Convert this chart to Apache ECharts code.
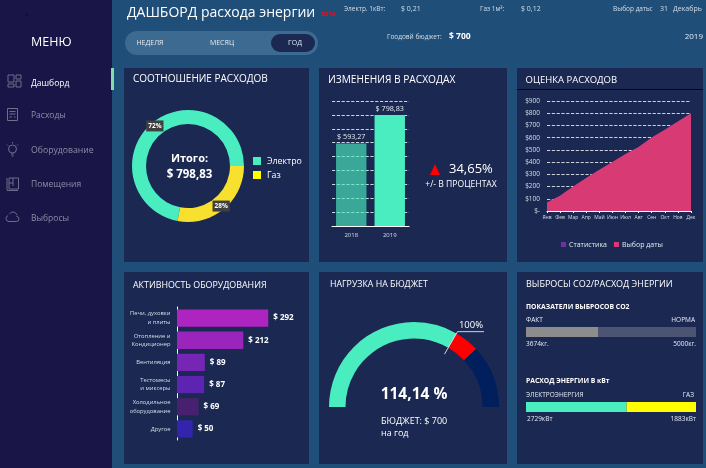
<!DOCTYPE html>
<html>
<head>
<meta charset="utf-8">
<title>Дашборд</title>
<script src="https://cdn.jsdelivr.net/npm/echarts@6/dist/echarts.min.js"></script>
<style>
html, body { margin: 0; padding: 0; background: #1f4e79; }
#main { width: 706px; height: 468px; }
</style>
</head>
<body>
<div id="main"></div>
<script>
'use strict';

// donut
var shareNames = ['Электро', 'Газ'];
var shareValues = [575.16, 223.67];
// expenses by year
var years = ['2018', '2019'];
var yearValues = [593.27, 798.83];
// estimate by month
var months = ['Янв', 'Фев', 'Мар', 'Апр', 'Май', 'Июн', 'Июл', 'Авг', 'Сен', 'Окт', 'Ноя', 'Дек'];
var statValues = [70, 125, 200, 270, 338, 400, 466, 523, 602, 665, 733, 798.83];
var dateValues = [70, 125, 200, 270, 338, 400, 466, 523, 602, 665, 733, 798.83];
// equipment
var equipNames = ['Печи, духовки\nи плиты', 'Отопление и\nКондиционер', 'Вентиляция', 'Тестомесы\nи миксеры', 'Холодильное\nоборудование', 'Другое'];
var equipValues = [292, 212, 89, 87, 69, 50];
var equipColors = ['#ae24c0', '#9a25bd', '#7626b4', '#5c24b0', '#47216f', '#3324ad'];
// budget gauge, percent
var budgetParts = [100, 14.14, 35.86];
// co2 and energy
var co2Fact = [3674];
var co2Norm = [5000];
var energyElectro = [2729];
var energyGas = [1883];

var FONT = '"Open Sans", sans-serif';
var PANEL = '#1b2852';
var WHITE = '#ffffff';
var GREEN = '#4aedc0';
var ICON = '#6d6e8c';

function txt(x, y, text, size, color, weight, align) {
    return {
        type: 'text',
        silent: true,
        z: 5,
        style: {
            x: x, y: y, text: text,
            fill: color || WHITE,
            font: (weight || 'normal') + ' ' + size + 'px ' + FONT,
            textAlign: align || 'left',
            textVerticalAlign: 'middle'
        }
    };
}

function box(x, y, w, h, color, r) {
    return {
        type: 'rect', silent: true, z: -10,
        shape: { x: x, y: y, width: w, height: h, r: r || 0 },
        style: { fill: color }
    };
}

function ic(type, shape) {
    return {
        type: type, silent: true, z: 5, shape: shape,
        style: { fill: 'none', stroke: ICON, lineWidth: 1 }
    };
}

function rc(x, y, w, h) { return ic('rect', { x: x, y: y, width: w, height: h }); }
function ln(x1, y1, x2, y2) { return ic('line', { x1: x1, y1: y1, x2: x2, y2: y2 }); }
function arc(cx, cy, r, a, b) { return ic('arc', { cx: cx, cy: cy, r: r, startAngle: a, endAngle: b, clockwise: true }); }

function money(v) { return '$ ' + v.toFixed(2).replace('.', ','); }

// gauge geometry
var gCx = 414, gCy = 407;
var gTotal = budgetParts[0] + budgetParts[1] + budgetParts[2];
var gAng = Math.PI * (1 - budgetParts[0] / gTotal);
var gOver = budgetParts[0] + budgetParts[1];
var changePct = (yearValues[1] / yearValues[0] - 1) * 100;
var yearSum = shareValues[0] + shareValues[1];

var graphic = [
    box(0, 0, 112, 468, '#1a1547'),
    box(111, 68, 3, 22, '#7ee0a8'),
    box(124, 68, 185, 194, PANEL),
    box(319, 68, 188, 194, PANEL),
    box(517, 68, 186, 194, PANEL),
    box(517, 89, 186, 1, '#05081c'),
    box(124, 272, 185, 192, PANEL),
    box(319, 272, 188, 192, PANEL),
    box(517, 272, 186, 192, PANEL),
    box(125, 31, 193, 24, '#3d6a91', 12),
    box(271, 34, 44, 18, PANEL, 9),

    // sidebar
    txt(25, 14, 'з', 6, '#05081c'),
    txt(31, 42, 'МЕНЮ', 12.5, WHITE),
    txt(31, 84, 'Дашборд', 8.5, WHITE),
    txt(31, 116, 'Расходы', 8.5, '#8d8da6'),
    txt(31, 151, 'Оборудование', 8.7, '#8d8da6'),
    txt(31, 185, 'Помещения', 8.5, '#8d8da6'),
    txt(31, 219, 'Выбросы', 8.5, '#8d8da6'),
    rc(8, 75, 6, 7), rc(16, 75, 5, 4), rc(8, 84, 6, 3), rc(16, 81, 5, 6),
    rc(7.5, 108.5, 10, 12), ln(9.5, 111.5, 15.5, 111.5), ln(9.5, 114, 15.5, 114), ln(9.5, 117, 12, 117), ln(14, 117, 15.5, 117),
    ic('circle', { cx: 12.5, cy: 149, r: 4 }), ln(11, 154, 14, 154), ln(11.5, 156, 13.5, 156), ln(12.5, 142, 12.5, 143.5), ln(7, 144.5, 8, 145.5), ln(18, 144.5, 17, 145.5),
    rc(9, 178, 9.5, 11), ln(9, 183, 13, 183), ln(13, 178, 13, 186), ln(7, 178, 7, 190), ln(7, 190.5, 18, 190.5),
    arc(9, 218.5, 3, 1.57, 4.4), arc(13, 216, 4, 3.6, 6.1), arc(16.5, 219, 2.5, 4.7, 1.57), ln(9, 221.5, 16.5, 221.5),

    // header
    txt(127, 13, 'ДАШБОРД расхода энергии', 14, WHITE),
    txt(321, 14.5, 'BETA', 6, '#e81123', 'bold'),
    txt(344, 9, 'Электр. 1кВт:', 6.5, '#d7dfe8'),
    txt(401, 9, '$ 0,21', 7, '#d7dfe8'),
    txt(480, 9.5, 'Газ 1м³:', 6.5, '#d7dfe8'),
    txt(521, 9, '$ 0,12', 7, '#d7dfe8'),
    txt(613, 9, 'Выбор даты:', 6.5, '#d7dfe8'),
    txt(660, 9, '31', 7, '#d7dfe8'),
    txt(673, 9, 'Декабрь', 7, '#d7dfe8'),
    txt(387, 37.5, 'Гоодовй бюджет:', 6.5, '#d7dfe8'),
    txt(449, 37, '$ 700', 8.5, WHITE, 'bold'),
    txt(703, 37, '2019', 8, '#e5ebf2', 'normal', 'right'),
    txt(150, 42.5, 'НЕДЕЛЯ', 7, '#e5ebf2', 'normal', 'center'),
    txt(222, 42.5, 'МЕСЯЦ', 7, '#e5ebf2', 'normal', 'center'),
    txt(295, 42.5, 'ГОД', 7, '#e5ebf2', 'normal', 'center'),

    // panel titles
    txt(133, 79, 'СООТНОШЕНИЕ РАСХОДОВ', 10, WHITE),
    txt(328, 80, 'ИЗМЕНЕНИЯ В РАСХОДАХ', 10.2, WHITE),
    txt(525.5, 80, 'ОЦЕНКА РАСХОДОВ', 9.5, WHITE),
    txt(133, 285, 'АКТИВНОСТЬ ОБОРУДОВАНИЯ', 8.9, WHITE),
    txt(330, 284, 'НАГРУЗКА НА БЮДЖЕТ', 8.8, WHITE),
    txt(526, 284, 'ВЫБРОСЫ СО2/РАСХОД ЭНЕРГИИ', 9, WHITE),

    // donut centre
    txt(189.5, 159, 'Итого:', 11, WHITE, 'bold', 'center'),
    txt(189.5, 175, money(yearSum), 11.5, WHITE, 'bold', 'center'),

    // change
    {
        type: 'polygon', silent: true, z: 5,
        shape: { points: [[430, 175], [440, 175], [435, 164]] },
        style: { fill: '#ff0000' }
    },
    txt(449, 169, changePct.toFixed(2).replace('.', ',') + '%', 13, WHITE),
    txt(461, 185, '+/- В ПРОЦЕНТАХ', 8.6, WHITE, 'normal', 'center'),

    // gauge text and 100% mark
    txt(414, 395, gOver.toFixed(2).replace('.', ',') + ' %', 15.5, WHITE, 'bold', 'center'),
    txt(381, 421, 'БЮДЖЕТ: $ 700', 9, WHITE),
    txt(381, 433, 'на год', 9, WHITE),
    {
        type: 'polyline', silent: true, z: 6,
        shape: { points: [
            [gCx + 61 * Math.cos(gAng), gCy - 61 * Math.sin(gAng)],
            [gCx + 87 * Math.cos(gAng), gCy - 87 * Math.sin(gAng)],
            [484, gCy - 87 * Math.sin(gAng)]
        ] },
        style: { fill: 'none', stroke: WHITE, lineWidth: 0.8 }
    },
    txt(471, 325, budgetParts[0] + '%', 9.5, WHITE, 'normal', 'center'),

    // co2 block
    txt(526, 307, 'ПОКАЗАТЕЛИ ВЫБРОСОВ СО2', 6.8, WHITE, 'bold'),
    txt(526, 320, 'ФАКТ', 6.5, '#e5ebf2'),
    txt(695, 320, 'НОРМА', 6.5, '#e5ebf2', 'normal', 'right'),
    txt(526, 344, co2Fact[0] + 'кг.', 6.5, '#e5ebf2'),
    txt(696, 344, co2Norm[0] + 'кг.', 6.5, '#e5ebf2', 'normal', 'right'),
    txt(526, 381, 'РАСХОД ЭНЕРГИИ В кВт', 6.8, WHITE, 'bold'),
    txt(526, 395, 'ЭЛЕКТРОЭНЕРГИЯ', 6.5, '#e5ebf2'),
    txt(694, 395, 'ГАЗ', 6.5, '#e5ebf2', 'normal', 'right'),
    txt(527, 419.5, energyElectro[0] + 'кВт', 6.5, '#e5ebf2'),
    txt(696, 419.5, energyGas[0] + 'кВт', 6.5, '#e5ebf2', 'normal', 'right')
];

var dashed = { show: true, lineStyle: { color: '#ffffff', type: 'dashed', width: 0.8 } };
var hiddenAxis = { show: false };

var option = {
    backgroundColor: '#1f4e79',
    animation: false,
    textStyle: { fontFamily: FONT },
    graphic: graphic,
    legend: [
        {
            left: 253, top: 156.5, orient: 'vertical', itemWidth: 8, itemHeight: 8, itemGap: 5, padding: 0,
            selectedMode: false,
            textStyle: { color: WHITE, fontSize: 8.8, padding: [0, 0, 0, 1] },
            data: [
                { name: shareNames[0], icon: 'rect', itemStyle: { color: GREEN } },
                { name: shareNames[1], icon: 'rect', itemStyle: { color: '#ffff00' } }
            ]
        },
        {
            left: 561, top: 241, itemWidth: 5, itemHeight: 5, itemGap: 7, padding: 0,
            selectedMode: false,
            textStyle: { color: '#e5ebf2', fontSize: 7, padding: [0, 0, 0, -2] },
            data: [
                { name: 'Статистика', icon: 'rect' },
                { name: 'Выбор даты', icon: 'rect' }
            ]
        }
    ],
    grid: [
        { left: 332, top: 101, width: 77, height: 125 },
        { left: 547, top: 101, width: 144, height: 110 },
        { left: 177, top: 307, width: 100, height: 133 },
        { left: 526, top: 327, width: 170, height: 10 },
        { left: 526, top: 402, width: 170, height: 10 }
    ],
    xAxis: [
        {
            gridIndex: 0, type: 'category', data: years,
            axisLine: { lineStyle: { color: WHITE, width: 1 } }, axisTick: { show: false },
            axisLabel: { color: '#d7dfe8', fontSize: 6, margin: 6 }
        },
        {
            gridIndex: 1, type: 'category', data: months, boundaryGap: false,
            axisLine: { lineStyle: { color: WHITE, width: 1 } },
            axisTick: { show: true, length: 2, lineStyle: { color: WHITE } },
            axisLabel: { color: '#d7dfe8', fontSize: 5, margin: 4, interval: 0 }
        },
        { gridIndex: 2, type: 'value', min: 0, max: 320, show: false },
        { gridIndex: 3, type: 'value', min: 0, max: co2Fact[0] + co2Norm[0], show: false },
        { gridIndex: 4, type: 'value', min: 0, max: energyElectro[0] + energyGas[0], show: false }
    ],
    yAxis: [
        {
            gridIndex: 0, type: 'value', min: 0, max: 900, interval: 100,
            axisLabel: hiddenAxis, axisLine: hiddenAxis, axisTick: hiddenAxis, splitLine: dashed
        },
        {
            gridIndex: 1, type: 'value', min: 0, max: 900, interval: 100,
            axisLine: hiddenAxis, axisTick: hiddenAxis, splitLine: dashed,
            axisLabel: {
                color: '#d7dfe8', fontSize: 6.5, margin: 7,
                formatter: function (v) { return v === 0 ? '$-' : '$' + v; }
            }
        },
        {
            gridIndex: 2, type: 'category', inverse: true, data: equipNames,
            axisLine: { lineStyle: { color: WHITE, width: 1 } }, axisTick: hiddenAxis,
            axisLabel: { color: '#d7dfe8', fontSize: 5.8, lineHeight: 8.5, margin: 6.5, align: 'right' }
        },
        { gridIndex: 3, type: 'category', data: ['co2'], show: false },
        { gridIndex: 4, type: 'category', data: ['energy'], show: false }
    ],
    series: [
        {
            type: 'pie', name: 'Соотношение', center: [188, 166], radius: [42, 56],
            startAngle: 259.2, clockwise: true, silent: true,
            percentPrecision: 0, labelLine: { show: false },
            label: {
                show: true, position: 'inside', formatter: '{d}%', color: WHITE,
                fontSize: 6.5, fontWeight: 'bold', backgroundColor: '#404040', padding: [2, 2]
            },
            data: [
                { name: shareNames[0], value: shareValues[0], itemStyle: { color: GREEN } },
                { name: shareNames[1], value: shareValues[1], itemStyle: { color: '#f7e02e' } }
            ]
        },
        {
            type: 'bar', name: 'Расходы', xAxisIndex: 0, yAxisIndex: 0, barWidth: '79%', silent: true,
            label: {
                show: true, position: 'top', color: '#e5ebf2', fontSize: 7.2, distance: 3,
                formatter: function (p) { return money(p.value); }
            },
            data: [
                { value: yearValues[0], itemStyle: { color: 'rgba(74,237,192,0.65)' } },
                { value: yearValues[1], itemStyle: { color: GREEN } }
            ]
        },
        {
            type: 'line', name: 'Статистика', xAxisIndex: 1, yAxisIndex: 1, data: statValues, silent: true,
            symbol: 'none', lineStyle: { width: 0 }, areaStyle: { color: '#7030a0', opacity: 1 },
            itemStyle: { color: '#7030a0' }
        },
        {
            type: 'line', name: 'Выбор даты', xAxisIndex: 1, yAxisIndex: 1, data: dateValues, silent: true,
            symbol: 'none', lineStyle: { width: 0 }, areaStyle: { color: '#d83b74', opacity: 1 },
            itemStyle: { color: '#d83b74' }
        },
        {
            type: 'bar', name: 'Оборудование', xAxisIndex: 2, yAxisIndex: 2, barCategoryGap: '22%', silent: true,
            label: {
                show: true, position: 'right', color: WHITE, fontSize: 8, fontWeight: 'bold', distance: 5,
                formatter: function (p) { return '$ ' + p.value; }
            },
            data: equipValues.map(function (v, i) {
                return { value: v, itemStyle: { color: equipColors[i] } };
            })
        },
        {
            type: 'pie', name: 'Бюджет', center: [gCx, gCy], radius: [68.5, 85],
            startAngle: 180, endAngle: 0, clockwise: true, silent: true,
            label: { show: false }, labelLine: { show: false },
            data: [
                { name: 'В бюджете', value: budgetParts[0], itemStyle: { color: GREEN } },
                { name: 'Сверх', value: budgetParts[1], itemStyle: { color: '#ff0000' } },
                { name: 'Остаток', value: budgetParts[2], itemStyle: { color: '#001f5c' } }
            ]
        },
        { type: 'bar', name: 'Факт', xAxisIndex: 3, yAxisIndex: 3, stack: 'co2', barWidth: '100%', silent: true, data: co2Fact, itemStyle: { color: '#8c8c8c' } },
        { type: 'bar', name: 'Норма', xAxisIndex: 3, yAxisIndex: 3, stack: 'co2', barWidth: '100%', silent: true, data: co2Norm, itemStyle: { color: '#4c5473' } },
        { type: 'bar', name: 'Электроэнергия', xAxisIndex: 4, yAxisIndex: 4, stack: 'energy', barWidth: '100%', silent: true, data: energyElectro, itemStyle: { color: GREEN } },
        { type: 'bar', name: 'Газ расход', xAxisIndex: 4, yAxisIndex: 4, stack: 'energy', barWidth: '100%', silent: true, data: energyGas, itemStyle: { color: '#ffff00' } }
    ]
};

var chart = echarts.init(document.getElementById('main'), null, { renderer: 'canvas' });
chart.setOption(option);
</script>
</body>
</html>
